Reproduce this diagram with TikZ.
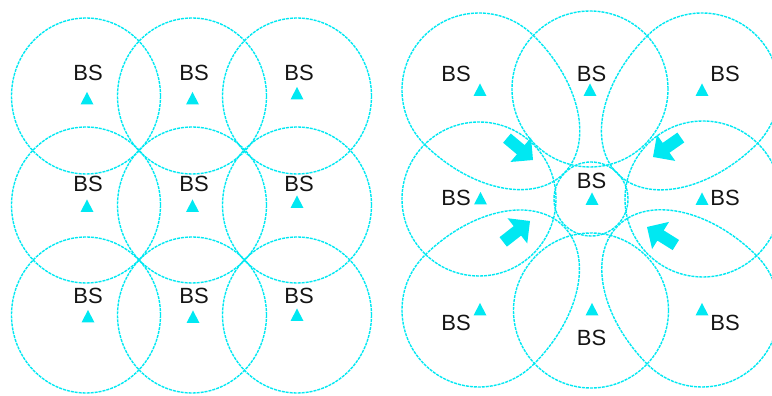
\documentclass[tikz,border=0pt]{standalone}
\usepackage{fontspec}
\setmainfont{Liberation Sans}
\definecolor{cellcol}{RGB}{0,232,242}
\definecolor{txtcol}{RGB}{20,20,20}
\tikzset{
  cell/.style={draw=cellcol, line width=1.4pt, dash pattern=on 3pt off 1pt},
  bslabel/.style={inner sep=0pt, text=txtcol, font=\fontsize{22}{22}\selectfont},
  bstri/.pic={\fill[cellcol] (-6.5,-6) -- (6.5,-6) -- (0,6.5) -- cycle;},
  bigarrow/.pic={\fill[cellcol] (0,0) -- (-16,16) -- (-16,6) -- (-34,6) -- (-34,-6) -- (-16,-6) -- (-16,-16) -- cycle;}
}
\begin{document}
\begin{tikzpicture}[x=1pt,y=1pt]
\useasboundingbox (0,0) rectangle (772,396);
\clip (0,0) rectangle (772,396);
% ---------- left panel: regular cells ----------
\foreach \cx in {86,192,297}{
  \foreach \cy in {300,191,81}{
    \draw[cell] (\cx,\cy) ellipse[x radius=74.5, y radius=78];
  }
}
\pic at (87,297.5) {bstri};
\pic at (192.5,297.5) {bstri};
\pic at (297,302.5) {bstri};
\pic at (87,190) {bstri};
\pic at (192.5,190) {bstri};
\pic at (297,194) {bstri};
\pic at (88,79.5) {bstri};
\pic at (193,79) {bstri};
\pic at (297,81) {bstri};
\node[bslabel] (l11) at (88,323.5) {BS};
\node[bslabel] (l12) at (194,323.5) {BS};
\node[bslabel] (l13) at (299,323.5) {BS};
\node[bslabel] (l21) at (88,212) {BS};
\node[bslabel] (l22) at (194,212) {BS};
\node[bslabel] (l23) at (299,212) {BS};
\node[bslabel] (l31) at (88,100) {BS};
\node[bslabel] (l32) at (194,100) {BS};
\node[bslabel] (l33) at (299,100) {BS};
% ---------- right panel: zoomed cells ----------
% corner petals stretched toward centre
\draw[cell, shift={(479,306)}, rotate=-44.2] (0,-77) arc[start angle=-90, end angle=90, x radius=119, y radius=77] arc[start angle=90, end angle=270, radius=77] -- cycle;
\draw[cell, shift={(702,306)}, rotate=-135.5] (0,-77) arc[start angle=-90, end angle=90, x radius=119, y radius=77] arc[start angle=90, end angle=270, radius=77] -- cycle;
\draw[cell, shift={(479,86)}, rotate=44.7] (0,-77) arc[start angle=-90, end angle=90, x radius=119, y radius=77] arc[start angle=90, end angle=270, radius=77] -- cycle;
\draw[cell, shift={(702,86)}, rotate=135] (0,-77) arc[start angle=-90, end angle=90, x radius=119, y radius=77] arc[start angle=90, end angle=270, radius=77] -- cycle;
% edge cells
\draw[cell] (590,307) circle[radius=78];
\draw[cell] (479,197) circle[radius=77];
\draw[cell] (703,197) circle[radius=78];
\draw[cell] (591,85.5) circle[radius=77.5];
% shrunk centre cell
\draw[cell] (591,197) circle[radius=37];
% arrows
\pic[rotate=-40] at (533,236) {bigarrow};
\pic[rotate=-145] at (653,239) {bigarrow};
\pic[rotate=38] at (530,175) {bigarrow};
\pic[rotate=148] at (647,169) {bigarrow};
% base stations
\pic at (480,306) {bstri};
\pic at (590,306) {bstri};
\pic at (702,306) {bstri};
\pic at (480.5,197.5) {bstri};
\pic at (592,197) {bstri};
\pic at (702,197) {bstri};
\pic at (480,86.5) {bstri};
\pic at (592,86.5) {bstri};
\pic at (702,86.5) {bstri};
\node[bslabel] (r11) at (456,322.5) {BS};
\node[bslabel] (r12) at (591.5,322.5) {BS};
\node[bslabel] (r13) at (725,322.5) {BS};
\node[bslabel] (r21) at (456,198.5) {BS};
\node[bslabel] (r22) at (591.5,215) {BS};
\node[bslabel] (r23) at (725,198.5) {BS};
\node[bslabel] (r31) at (456,73.5) {BS};
\node[bslabel] (r32) at (591.5,58.5) {BS};
\node[bslabel] (r33) at (725,73.5) {BS};
\end{tikzpicture}
\end{document}
